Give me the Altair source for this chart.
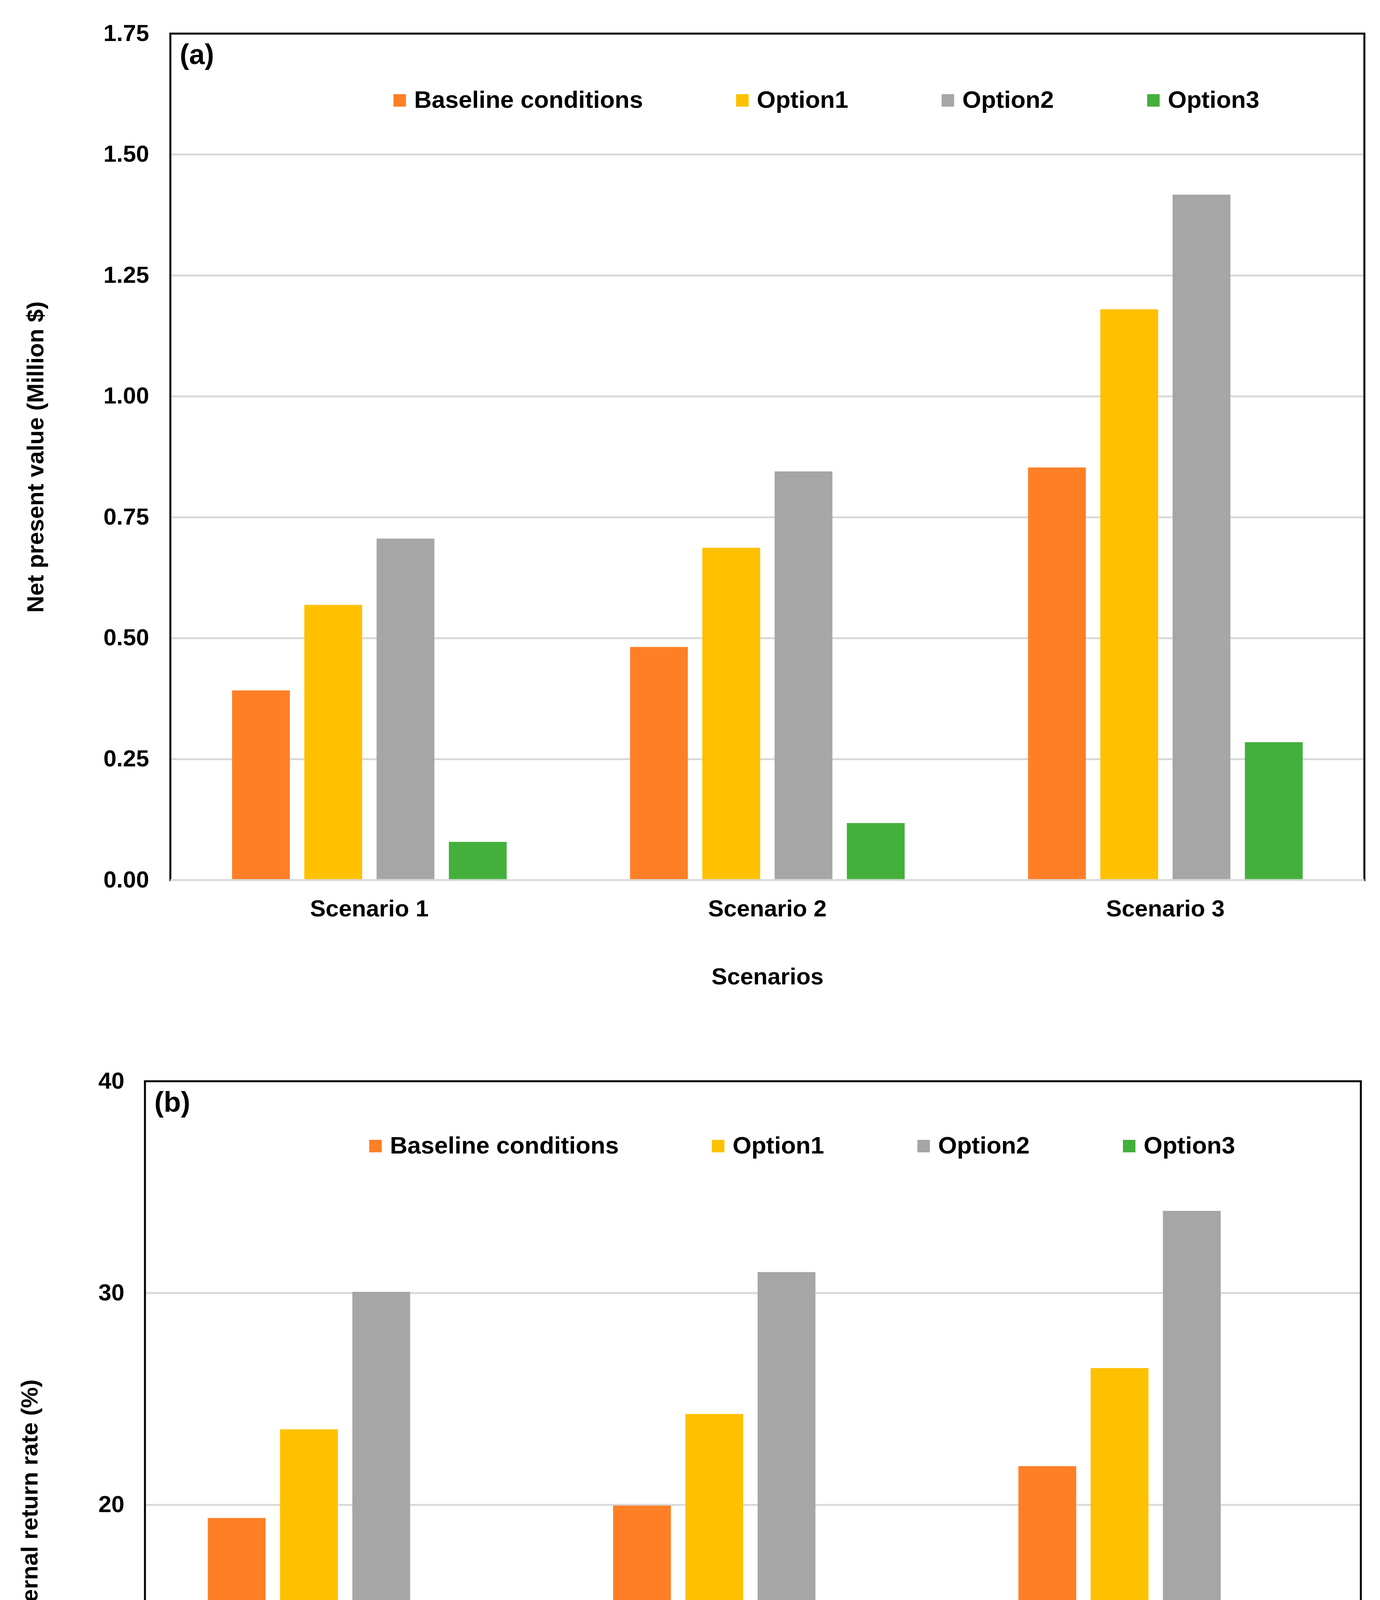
import altair as alt
import pandas as pd

# ---------------- data ----------------
scenarios = ["Scenario 1", "Scenario 2", "Scenario 3"]
series = ["Baseline conditions", "Option1", "Option2", "Option3"]
colors = ["#FF7F27", "#FFC000", "#A6A6A6", "#44B03C"]

npv_baseline = [0.392, 0.482, 0.853]
npv_option1 = [0.569, 0.687, 1.180]
npv_option2 = [0.706, 0.845, 1.417]
npv_option3 = [0.079, 0.118, 0.285]

irr_baseline = [19.38, 19.97, 21.83]
irr_option1 = [23.57, 24.29, 26.46]
irr_option2 = [30.06, 30.99, 33.88]
irr_option3 = [11.74, 12.17, 13.48]

npv_ticks = [0, 0.25, 0.5, 0.75, 1.0, 1.25, 1.5, 1.75]
irr_ticks = [0, 10, 20, 30, 40]

FONT = "Liberation Sans"
GRID = "#D9D9D9"


def long_df(cols):
    rows = []
    for s_name, vals in zip(series, cols):
        for sc, v in zip(scenarios, vals):
            rows.append({"Scenario": sc, "Series": s_name, "Value": v})
    return pd.DataFrame(rows)


npv_df = long_df([npv_baseline, npv_option1, npv_option2, npv_option3])
irr_df = long_df([irr_baseline, irr_option1, irr_option2, irr_option3])

txt_style = dict(labelFont=FONT, labelFontSize=60, labelFontWeight="bold",
                 labelColor="black", titleFont=FONT, titleFontSize=60,
                 titleFontWeight="bold", titleColor="black")


def panel(df, ytitle, yticks, fmt, label, width, height, inset,
          lpad, ext, tpad, legx, legy):
    ymax = yticks[-1]

    def yenc():
        return alt.Y(
            "Value:Q",
            scale=alt.Scale(domain=[0, ymax], nice=False, zero=True),
            axis=alt.Axis(
                title=ytitle, values=yticks, format=fmt, domain=False, ticks=False,
                grid=False, labelPadding=lpad, titlePadding=tpad,
                minExtent=ext, maxExtent=ext, **txt_style,
            ),
        )

    # inner gridlines
    grid = alt.Chart(pd.DataFrame({"Value": yticks[1:-1]})).mark_rule(
        color=GRID, strokeWidth=5
    ).encode(y=yenc(), x=alt.value(inset), x2=alt.value(width))

    bars = alt.Chart(df).mark_bar().encode(
        x=alt.X(
            "Scenario:N",
            sort=scenarios,
            scale=alt.Scale(range=[inset, width], paddingInner=0.31, paddingOuter=0.155),
            axis=alt.Axis(
                title="Scenarios", labelAngle=0, labelLimit=2000, ticks=False,
                domain=False, labelPadding=45, titlePadding=115, grid=False,
                **txt_style,
            ),
        ),
        xOffset=alt.XOffset(
            "Series:N", sort=series, scale=alt.Scale(paddingInner=0.2, paddingOuter=0)
        ),
        y=yenc(),
        color=alt.Color(
            "Series:N",
            sort=series,
            scale=alt.Scale(domain=series, range=colors),
            legend=alt.Legend(
                title=None, orient="none", legendX=legx, legendY=legy,
                direction="horizontal", columns=4, columnPadding=223,
                symbolType="square", symbolSize=1024, symbolStrokeWidth=0,
                symbolOpacity=1, labelFont=FONT, labelFontSize=62,
                labelFontWeight="bold", labelColor="black", labelLimit=2000,
                labelOffset=6, padding=0,
            ),
        ),
    )

    # plot-area frame: black top, left and right; grey baseline
    top_edge = alt.Chart(pd.DataFrame({"Value": [ymax]})).mark_rule(
        color="black", strokeWidth=5
    ).encode(y=yenc(), x=alt.value(inset - 2.5), x2=alt.value(width + 2.5))
    sides = alt.Chart(pd.DataFrame({"side": ["l", "r"]})).mark_rule(
        color="black", strokeWidth=5
    )
    left_edge = sides.transform_filter("datum.side == 'l'").encode(
        x=alt.value(inset), y=alt.value(0), y2=alt.value(height + 2.5))
    right_edge = sides.transform_filter("datum.side == 'r'").encode(
        x=alt.value(width), y=alt.value(0), y2=alt.value(height + 2.5))
    base = alt.Chart(pd.DataFrame({"Value": [yticks[0]]})).mark_rule(
        color=GRID, strokeWidth=5
    ).encode(y=yenc(), x=alt.value(inset), x2=alt.value(width))

    txt = (
        alt.Chart(pd.DataFrame({"t": [label]}))
        .mark_text(align="left", baseline="alphabetic", fontSize=72, font=FONT,
                   fontWeight="bold", color="black")
        .encode(x=alt.value(inset + 24), y=alt.value(78), text="t:N")
    )
    return alt.layer(grid, bars, top_edge, left_edge, right_edge, base, txt).properties(
        width=width, height=height, view=alt.ViewBackground(strokeWidth=0, stroke="transparent")
    )


top = panel(npv_df, "Net present value (Million $)", npv_ticks, ".2f", "(a)",
            3121, 2167, 65, -10, 107, 141, 621, 140)
bottom = panel(irr_df, "Internal return rate (%)", irr_ticks, "d", "(b)",
               3112, 2169, 0, 53, 118, 145, 559, 135)

chart = (
    alt.vconcat(top, bottom, spacing=207)
    .resolve_scale(color="independent", x="independent", y="independent")
    .properties(padding={"left": 39, "top": 48, "right": 10, "bottom": 10},
                background="white")
)

chart.save("out.html", embed_options={"renderer": "svg", "actions": False})
